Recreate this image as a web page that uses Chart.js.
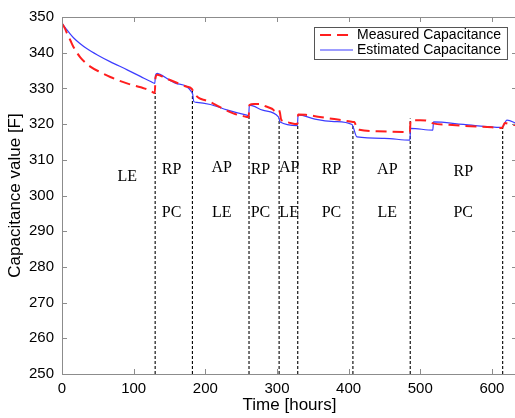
<!DOCTYPE html>
<html><head><meta charset="utf-8">
<script src="https://cdn.jsdelivr.net/npm/chart.js@4"></script>
<style>html,body{margin:0;padding:0;background:#fff;overflow:hidden;}#wrap{width:522px;height:418px;}</style>
</head><body><div id="wrap"><canvas id="c" width="522" height="418"></canvas></div>
<script>
// ---- data ----
const measuredTimes  = [0,4,7,11.6,16,25.5,39.5,55,67.4,90.7,110,123.2,129.5,130.5,133,144,161,172,181,185,192,200,207,220,239,258,260.5,261.5,268,276,284,293,298,302,304,306,312,319,328.5,329.5,340,360,380,400,406,408,411,415,440,476,485.5,486.5,500,510,518,540,570,600,614,618,625,635];
const measuredValues = [348.2,346.8,345.4,343.5,341.6,338.7,336.1,334.4,333.2,331.4,330.3,329.4,328.7,333.0,333.8,332.9,331.5,330.6,329.9,328.5,327.2,326.7,326.2,324.8,323.0,322.0,321.9,325.3,325.6,325.6,325.0,324.3,323.6,324.1,323.3,321.2,320.7,320.3,320.0,322.7,322.6,322.0,321.4,320.8,320.6,320.6,319.0,318.4,318.0,317.8,317.7,321.1,321.1,320.9,320.2,319.8,319.4,319.1,318.9,320.3,320.0,319.6];
const estimatedTimes  = [0,5,10,16,25,35,50,67,91,110,123,129.5,130.5,133,136,159,182,184,188,207,230,258,260.5,261.5,280,302,304.5,328.5,329.5,353,380,404.6,411.6,450,485.5,486.5,517.5,518.5,560,614,621,635];
const estimatedValues = [348.2,346.9,345.6,344.2,342.6,341.1,339.3,337.5,335.2,333.3,332.0,331.4,333.7,334.2,334.0,331.4,328.7,326.3,326.1,325.5,324.0,322.5,322.4,325.3,323.9,322.0,320.6,319.6,322.6,321.4,320.7,319.9,316.4,316.0,315.5,318.8,318.3,320.6,319.9,319.1,321.1,320.1];
const eventTimes = [130,182,261,303,329,406,486,615];
const eventTops  = [328.8,329.5,322.5,321.6,320.2,320.0,321.6,319.7];
const phaseTimes        = [91,153,223,277,317,376,454,560];
const phaseTopLabels    = ["LE","RP","AP","RP","AP","RP","AP","RP"];
const phaseTopValues    = [305.1,307.1,307.7,307.1,307.7,307.1,307.1,306.5];
const phaseBottomLabels = ["","PC","LE","PC","LE","PC","LE","PC"];
const phaseBottomValue  = 295.2;
const xTickValues = [0,100,200,300,400,500,600];
const yTickValues = [250,260,270,280,290,300,310,320,330,340,350];
const seriesNames = ["Measured Capacitance","Estimated Capacitance"];

const pts = (xs, ys) => xs.map((t, i) => ({x: t, y: ys[i]}));
const RED = 'rgb(255,30,30)', BLUE = 'rgb(60,60,255)';

const datasets = [
  {label: seriesNames[0], data: pts(measuredTimes, measuredValues), borderColor: RED, borderWidth: 2, borderDash: [11,6], pointRadius: 0, cubicInterpolationMode: 'monotone', fill: false},
  {label: seriesNames[1], data: pts(estimatedTimes, estimatedValues), borderColor: BLUE, borderWidth: 1.2, pointRadius: 0, cubicInterpolationMode: 'monotone', fill: false}
];
eventTimes.forEach((t, i) => datasets.push({label: '', data: [{x: t, y: 250}, {x: t, y: eventTops[i]}], borderColor: '#000', borderWidth: 1.1, borderDash: [3,2], pointRadius: 0, fill: false}));

const SANS = '"Liberation Sans", Arial, Helvetica, sans-serif';

const frame = {
  id: 'frame',
  afterDatasetsDraw(chart) {
    const {ctx, chartArea: a, scales: {x, y}} = chart;
    ctx.save();
    ctx.font = '16px "Liberation Serif", "Times New Roman", serif';
    ctx.fillStyle = '#000'; ctx.textAlign = 'center'; ctx.textBaseline = 'middle';
    phaseTimes.forEach((t, i) => {
      const px = x.getPixelForValue(t);
      ctx.fillText(phaseTopLabels[i], px, y.getPixelForValue(phaseTopValues[i]));
      if (phaseBottomLabels[i]) ctx.fillText(phaseBottomLabels[i], px, y.getPixelForValue(phaseBottomValue));
    });
    ctx.strokeStyle = '#8c8c8c'; ctx.lineWidth = 1;
    ctx.strokeRect(a.left + 0.5, a.top + 0.5, a.right - a.left, a.bottom - a.top);
    const L = 5;
    ctx.beginPath();
    x.ticks.forEach(tk => { const p = Math.round(x.getPixelForValue(tk.value)) + 0.5; ctx.moveTo(p, a.bottom); ctx.lineTo(p, a.bottom - L); ctx.moveTo(p, a.top); ctx.lineTo(p, a.top + L); });
    y.ticks.forEach(tk => { const p = Math.round(y.getPixelForValue(tk.value)) + 0.5; ctx.moveTo(a.left, p); ctx.lineTo(a.left + L, p); ctx.moveTo(a.right, p); ctx.lineTo(a.right - L, p); });
    ctx.stroke();
    ctx.restore();
  },
  afterDraw(chart) {
    const {ctx, chartArea: a} = chart;
    const ds = chart.data.datasets;
    ctx.save();
    ctx.font = '14px ' + SANS;
    const tw = Math.max(ctx.measureText(ds[0].label).width, ctx.measureText(ds[1].label).width);
    const w = 6 + 33 + 4 + tw + 6, h = 32;
    const bx = 507 - w, by = a.top + 10;
    ctx.fillStyle = '#fff'; ctx.fillRect(bx, by, w, h);
    ctx.strokeStyle = '#555'; ctx.lineWidth = 1; ctx.strokeRect(Math.round(bx) + 0.5, by + 0.5, w, h);
    [0, 1].forEach(i => {
      const cy = by + 8 + i * 15;
      ctx.strokeStyle = ds[i].borderColor; ctx.lineWidth = ds[i].borderWidth;
      ctx.setLineDash(ds[i].borderDash || []);
      ctx.beginPath(); ctx.moveTo(bx + 6, cy); ctx.lineTo(bx + 39, cy); ctx.stroke();
      ctx.setLineDash([]);
      ctx.fillStyle = '#000'; ctx.textAlign = 'left'; ctx.textBaseline = 'middle';
      ctx.fillText(ds[i].label, bx + 43, cy + 0.5);
    });
    ctx.restore();
  }
};

new Chart(document.getElementById('c'), {
  type: 'line',
  data: {datasets},
  options: {
    responsive: false, animation: false, events: [],
    layout: {padding: {top: 16, right: 5, left: 0, bottom: 0}},
    plugins: {legend: {display: false}, tooltip: {enabled: false}},
    scales: {
      x: {
        type: 'linear', min: 0, max: 635,
        grid: {display: false, drawTicks: false}, border: {display: false},
        afterBuildTicks: s => { s.ticks = xTickValues.map(v => ({value: v})); },
        afterFit: s => { s.height = 44; },
        ticks: {color: '#000', font: {size: 15, family: SANS}, padding: 6, maxRotation: 0},
        title: {display: true, text: 'Time [hours]', color: '#000', font: {size: 17, family: SANS}, padding: {top: 0, bottom: 2}}
      },
      y: {
        type: 'linear', min: 250, max: 350,
        grid: {display: false, drawTicks: false}, border: {display: false},
        afterBuildTicks: s => { s.ticks = yTickValues.map(v => ({value: v})); },
        afterFit: s => { s.width = 62; },
        ticks: {color: '#000', font: {size: 15, family: SANS}, padding: 8},
        title: {display: true, text: 'Capacitance value [F]', color: '#000', font: {size: 17, family: SANS}, padding: {top: 5, bottom: 0}}
      }
    }
  },
  plugins: [frame]
});
</script></body></html>
